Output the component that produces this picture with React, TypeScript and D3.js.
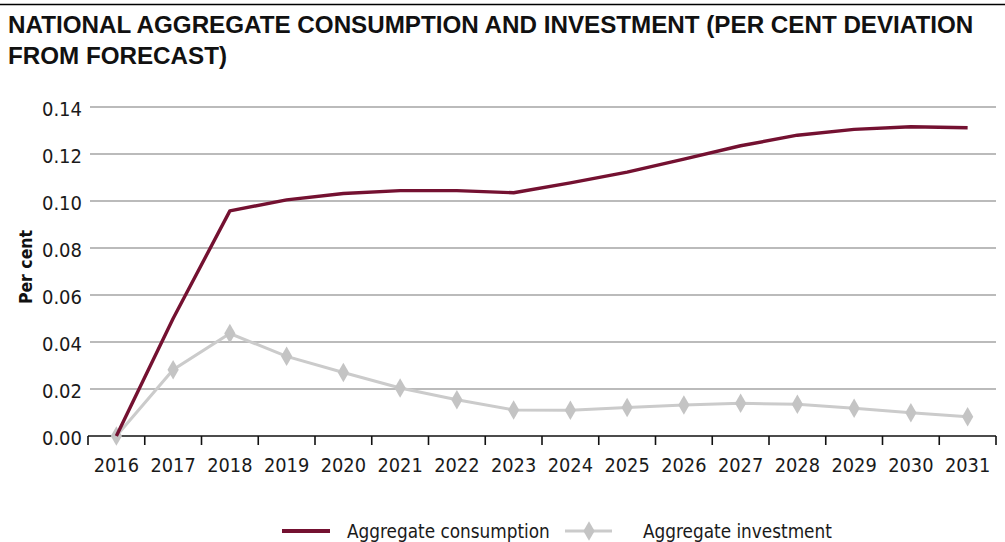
import * as d3 from 'd3';
import React from 'react';

const years = ['2016', '2017', '2018', '2019', '2020', '2021', '2022', '2023',
  '2024', '2025', '2026', '2027', '2028', '2029', '2030', '2031'];
const consumption = [0, 0.050, 0.0958, 0.1005, 0.1032, 0.1044, 0.1044, 0.1035,
  0.1077, 0.1123, 0.1178, 0.1235, 0.128, 0.1305, 0.1316, 0.1312];
const investment = [0, 0.0282, 0.0436, 0.0339, 0.027, 0.0204, 0.0154, 0.0111,
  0.011, 0.0121, 0.0132, 0.0139, 0.0135, 0.0118, 0.0099, 0.0082];
const yTicks = [0, 0.02, 0.04, 0.06, 0.08, 0.1, 0.12, 0.14];

const titleLines = [
  'NATIONAL AGGREGATE CONSUMPTION AND INVESTMENT (PER CENT DEVIATION',
  'FROM FORECAST)',
];
const seriesNames = ['Aggregate consumption', 'Aggregate investment'];

const W = 1005;
const H = 542;
const margin = { top: 107, right: 9, bottom: 106, left: 88 };
const RED = '#741131';
const GREY = '#cbcbcb';
const tickFont = '"DejaVu Sans Condensed", "DejaVu Sans", Verdana, sans-serif';

export default function App() {
  const x = d3.scaleBand<string>()
    .domain(years)
    .range([margin.left, W - margin.right])
    .padding(0);
  const y = d3.scaleLinear()
    .domain([0, 0.14])
    .range([H - margin.bottom, margin.top]);
  const cx = (yr: string) => (x(yr) ?? 0) + x.bandwidth() / 2;

  const line = d3.line<number>()
    .x((_, i) => cx(years[i]))
    .y(d => y(d));

  const tickXs = [...years.map(yr => x(yr) ?? 0), W - margin.right];
  const diamond = d3.symbol().type(d3.symbolDiamond).size(110)() ?? '';

  return (
    <svg width={W} height={H} style={{ position: 'absolute', left: 0, top: 0, background: '#fff' }}>
      <line x1={0} x2={W} y1={4.5} y2={4.5} stroke="#000" strokeWidth={1.5} />
      {titleLines.map((t, i) => (
        <text key={t} x={8} y={33 + i * 31} fontFamily='"Liberation Sans", Arial, sans-serif'
          fontWeight="bold" fontSize={24.2} fill="#111">{t}</text>
      ))}

      {/* grid + y labels */}
      {yTicks.map(t => (
        <g key={t}>
          {t > 0 && (
            <line x1={margin.left + 2} x2={W - margin.right} y1={y(t)} y2={y(t)}
              stroke="#a5a5a5" strokeWidth={1.3} />
          )}
          <text x={82} y={y(t) + 2} textAnchor="end" dominantBaseline="central"
            fontFamily={tickFont} fontSize={20} fill="#1a1a1a">{t.toFixed(2)}</text>
        </g>
      ))}

      <text transform={`translate(32, ${267}) rotate(-90)`} textAnchor="middle"
        fontFamily={tickFont} fontWeight="bold" fontSize={17.5} fill="#111">Per cent</text>

      {/* x axis */}
      <line x1={margin.left} x2={W - margin.right} y1={y(0)} y2={y(0)} stroke="#111" strokeWidth={1.6} />
      {tickXs.map((tx, i) => (
        <line key={i} x1={tx} x2={tx} y1={y(0)} y2={y(0) + 9} stroke="#111" strokeWidth={1.6} />
      ))}
      {years.map(yr => (
        <text key={yr} x={cx(yr)} y={472} textAnchor="middle"
          fontFamily={tickFont} fontSize={19.8} fill="#1a1a1a">{yr}</text>
      ))}

      {/* series */}
      <path d={line(investment) ?? ''} fill="none" stroke={GREY} strokeWidth={3} />
      {investment.map((v, i) => (
        <path key={i} d={diamond} transform={`translate(${cx(years[i])}, ${y(v)})`} fill="#c4c4c4" />
      ))}
      <path d={line(consumption) ?? ''} fill="none" stroke={RED} strokeWidth={3.4} strokeLinejoin="round" />

      {/* legend */}
      <line x1={282} x2={330} y1={531} y2={531} stroke={RED} strokeWidth={4} />
      <text x={347} y={531} dominantBaseline="central" fontFamily={tickFont} fontSize={18.8} fill="#1a1a1a">{seriesNames[0]}</text>
      <line x1={565} x2={612} y1={531} y2={531} stroke={GREY} strokeWidth={3} />
      <path d={diamond} transform="translate(589, 531)" fill="#c4c4c4" />
      <text x={643} y={531} dominantBaseline="central" fontFamily={tickFont} fontSize={18.8} fill="#1a1a1a">{seriesNames[1]}</text>
    </svg>
  );
}
